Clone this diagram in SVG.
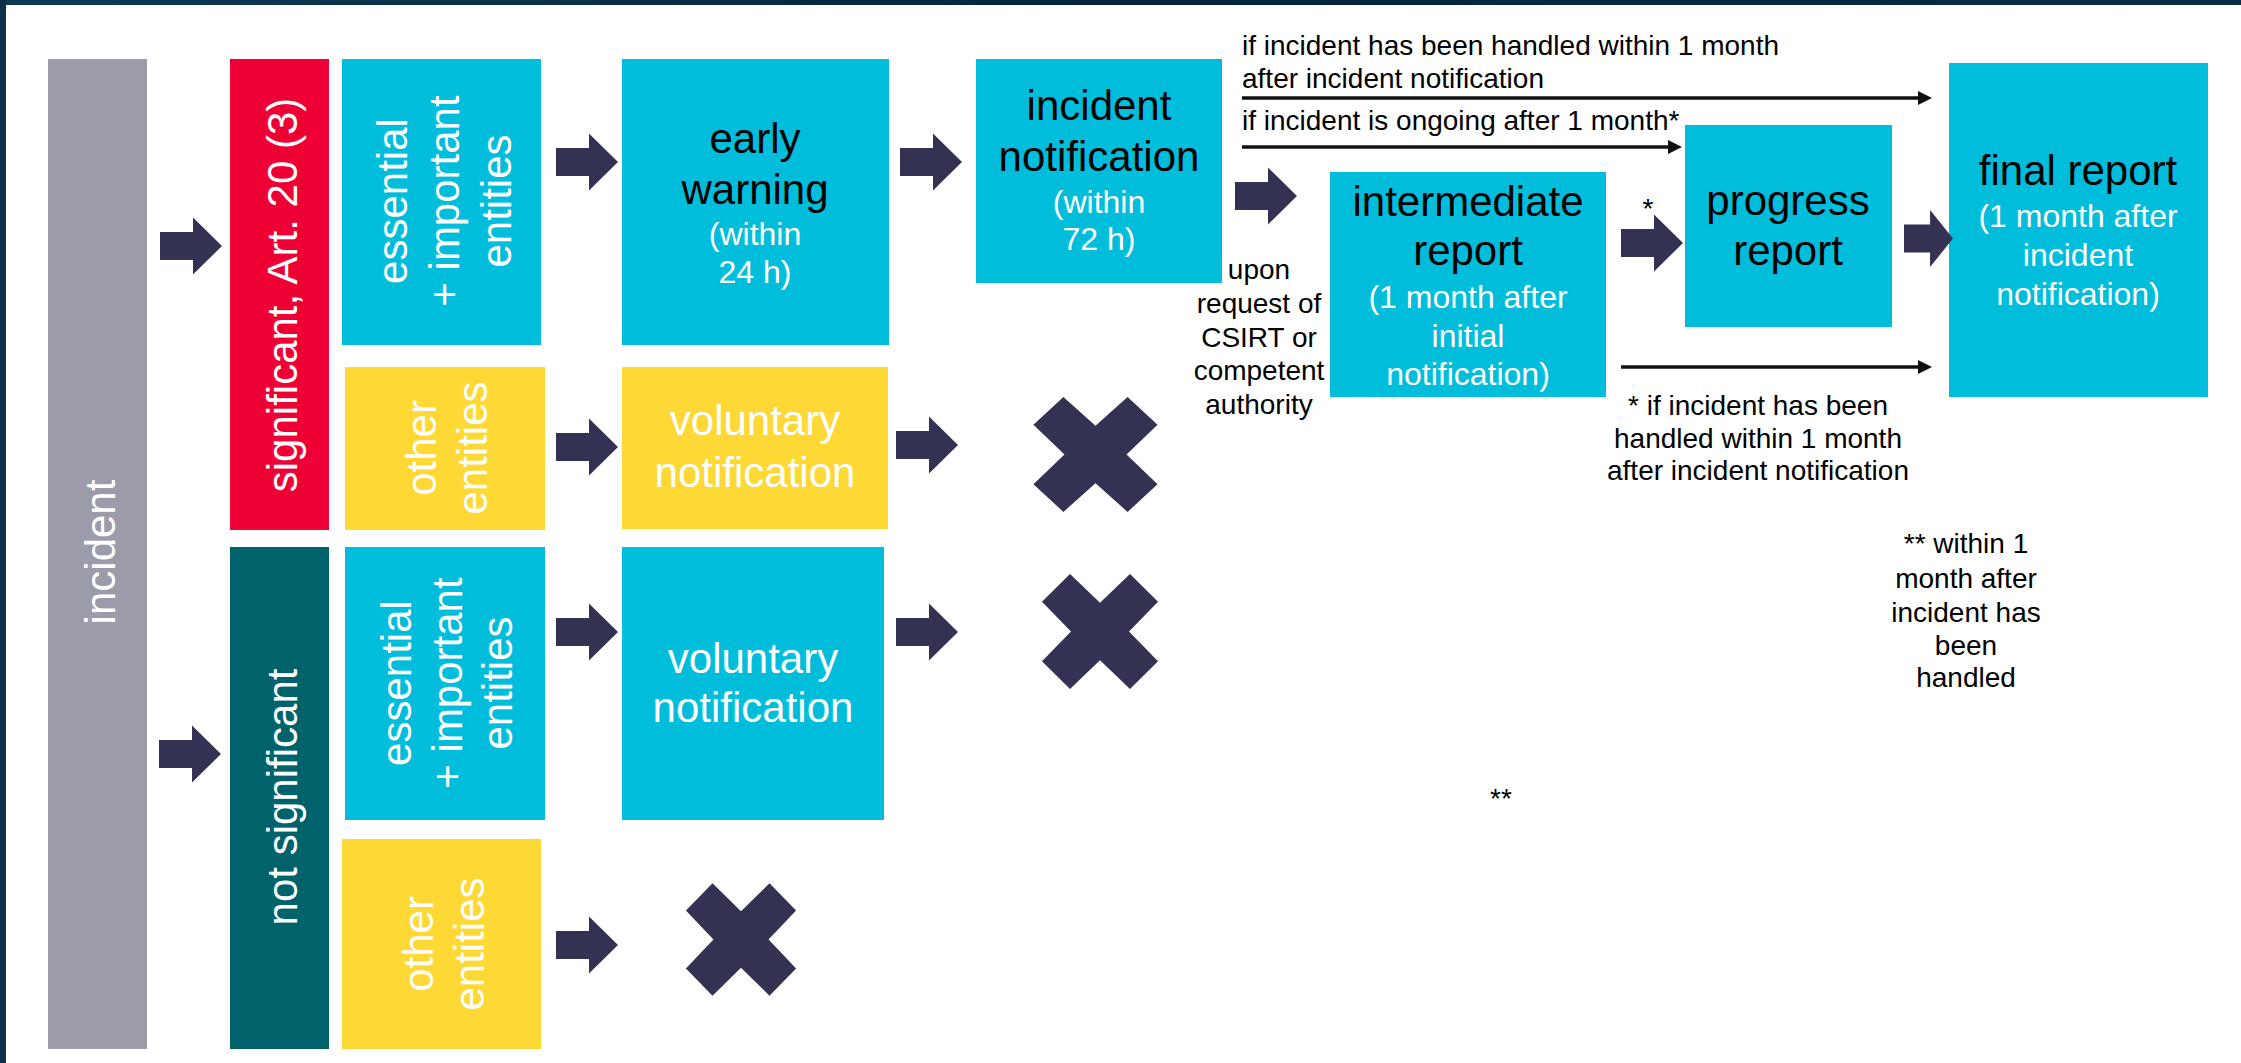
<svg xmlns="http://www.w3.org/2000/svg" xmlns:xlink="http://www.w3.org/1999/xlink" width="2241" height="1063" viewBox="0 0 2241 1063">
  <defs>
    <style>
      .lbl { font-family: "Liberation Sans", Arial, sans-serif; }
      .big { font-size: 42px; }
      .sub { font-size: 32px; }
      .note { font-size: 28px; fill: #000; }
      .w { fill: #ffffff; }
      .k { fill: #000000; }
      .mid { text-anchor: middle; }
      .cyan { fill: #00bedb; }
      .yellow { fill: #fed834; }
      .red { fill: #ee0035; }
      .teal { fill: #00636c; }
      .grey { fill: #9c9baa; }
      .blk { fill: #343252; }
      .thin { stroke: #111111; stroke-width: 3.5; fill: none; marker-end: url(#head); }
    </style>
    <linearGradient id="frame" x1="0" y1="0" x2="1" y2="0">
      <stop offset="0" stop-color="#0f3a55"/>
      <stop offset="0.5" stop-color="#05243a"/>
      <stop offset="1" stop-color="#0a2d45"/>
    </linearGradient>
    <!-- block arrow, origin at left-middle -->
    <path id="arrow" d="M0,-14 H33 V-28.5 L62,0 L33,28.5 V14 H0 Z"/>
    <!-- cross mark, centred on origin -->
    <path id="cross" d="M-30,-58 L0,-29 L30,-58 L58,-30 L29,0 L58,30 L30,58 L0,29 L-30,58 L-58,30 L-29,0 L-58,-30 Z"/>
    <marker id="head" markerUnits="userSpaceOnUse" markerWidth="14" markerHeight="14" refX="7" refY="7" orient="auto">
      <path d="M0,0 L14,7 L0,14 Z" fill="#111111"/>
    </marker>
  </defs>

  <!-- page -->
  <rect x="0" y="0" width="2241" height="1063" fill="#ffffff"/>
  <rect x="0" y="0" width="2241" height="5" fill="url(#frame)"/>
  <rect x="0" y="0" width="6" height="1063" fill="#0c3048"/>

  <!-- first column -->
  <g id="n-incident">
    <rect class="grey" x="48" y="59" width="99" height="990"/>
    <text class="lbl big w mid" transform="translate(115,552) rotate(-90)">incident</text>
  </g>

  <!-- severity -->
  <g id="n-significant">
    <rect class="red" x="230" y="59" width="99" height="471"/>
    <text class="lbl big w mid" transform="translate(297,295) rotate(-90)">significant, Art. 20 (3)</text>
  </g>
  <g id="n-not-significant">
    <rect class="teal" x="230" y="547" width="99" height="502"/>
    <text class="lbl big w mid" transform="translate(297,797) rotate(-90)">not significant</text>
  </g>

  <!-- entity types -->
  <g id="n-entities-significant">
    <rect class="cyan" x="342" y="59" width="199" height="286"/>
    <text class="lbl big w mid" transform="translate(407,201) rotate(-90)">essential</text>
    <text class="lbl big w mid" transform="translate(459,201) rotate(-90)">+ important</text>
    <text class="lbl big w mid" transform="translate(511,201) rotate(-90)">entities</text>
  </g>
  <g id="n-other-significant">
    <rect class="yellow" x="345" y="367" width="200" height="163"/>
    <text class="lbl big w mid" transform="translate(436,448) rotate(-90)">other</text>
    <text class="lbl big w mid" transform="translate(487,448) rotate(-90)">entities</text>
  </g>
  <g id="n-entities-not-significant">
    <rect class="cyan" x="345" y="547" width="200" height="273"/>
    <text class="lbl big w mid" transform="translate(411,683) rotate(-90)">essential</text>
    <text class="lbl big w mid" transform="translate(462,683) rotate(-90)">+ important</text>
    <text class="lbl big w mid" transform="translate(512,683) rotate(-90)">entities</text>
  </g>
  <g id="n-other-not-significant">
    <rect class="yellow" x="342" y="839" width="199" height="210"/>
    <text class="lbl big w mid" transform="translate(433,944) rotate(-90)">other</text>
    <text class="lbl big w mid" transform="translate(484,944) rotate(-90)">entities</text>
  </g>

  <!-- reports -->
  <g id="n-early-warning">
    <rect class="cyan" x="622" y="59" width="267" height="286"/>
    <text class="lbl big k mid" x="755" y="153">early</text>
    <text class="lbl big k mid" x="755" y="204">warning</text>
    <text class="lbl sub w mid" x="755" y="245">(within</text>
    <text class="lbl sub w mid" x="755" y="283">24 h)</text>
  </g>
  <g id="n-voluntary-significant">
    <rect class="yellow" x="622" y="367" width="266" height="162"/>
    <text class="lbl big w mid" x="755" y="435">voluntary</text>
    <text class="lbl big w mid" x="755" y="487">notification</text>
  </g>
  <g id="n-voluntary-not-significant">
    <rect class="cyan" x="622" y="547" width="262" height="273"/>
    <text class="lbl big w mid" x="753" y="673">voluntary</text>
    <text class="lbl big w mid" x="753" y="722">notification</text>
  </g>
  <g id="n-incident-notification">
    <rect class="cyan" x="976" y="59" width="246" height="224"/>
    <text class="lbl big k mid" x="1099" y="120">incident</text>
    <text class="lbl big k mid" x="1099" y="171">notification</text>
    <text class="lbl sub w mid" x="1099" y="213">(within</text>
    <text class="lbl sub w mid" x="1099" y="250">72 h)</text>
  </g>
  <g id="n-intermediate-report">
    <rect class="cyan" x="1330" y="172" width="276" height="225"/>
    <text class="lbl big k mid" x="1468" y="216">intermediate</text>
    <text class="lbl big k mid" x="1468" y="265">report</text>
    <text class="lbl sub w mid" x="1468" y="308">(1 month after</text>
    <text class="lbl sub w mid" x="1468" y="347">initial</text>
    <text class="lbl sub w mid" x="1468" y="385">notification)</text>
  </g>
  <g id="n-progress-report">
    <rect class="cyan" x="1685" y="125" width="207" height="202"/>
    <text class="lbl big k mid" x="1788" y="215">progress</text>
    <text class="lbl big k mid" x="1788" y="265">report</text>
  </g>
  <g id="n-final-report">
    <rect class="cyan" x="1949" y="63" width="259" height="334"/>
    <text class="lbl big k mid" x="2078" y="185">final report</text>
    <text class="lbl sub w mid" x="2078" y="227">(1 month after</text>
    <text class="lbl sub w mid" x="2078" y="266">incident</text>
    <text class="lbl sub w mid" x="2078" y="305">notification)</text>
  </g>

  <!-- no obligation -->
  <g id="n-none-1" class="blk"><use xlink:href="#cross" transform="translate(1095.5,454.5) scale(1.07,0.99)"/></g>
  <g id="n-none-2" class="blk"><use xlink:href="#cross" transform="translate(1100,631.5) scale(1,0.99)"/></g>
  <g id="n-none-3" class="blk"><use xlink:href="#cross" transform="translate(741,939.5) scale(0.95,0.97)"/></g>

  <!-- connectors -->
  <g id="connectors">
    <g class="blk">
      <use xlink:href="#arrow" x="160" y="246"/>
      <use xlink:href="#arrow" x="159" y="754"/>
      <use xlink:href="#arrow" x="556" y="162"/>
      <use xlink:href="#arrow" x="556" y="447"/>
      <use xlink:href="#arrow" x="556" y="632"/>
      <use xlink:href="#arrow" x="556" y="945"/>
      <use xlink:href="#arrow" x="900" y="162"/>
      <use xlink:href="#arrow" x="896" y="445"/>
      <use xlink:href="#arrow" x="896" y="632"/>
      <use xlink:href="#arrow" x="1235" y="196"/>
      <use xlink:href="#arrow" x="1621" y="243"/>
      <use xlink:href="#arrow" transform="translate(1904,238.5) scale(0.79,1)"/>
    </g>
    <line class="thin" x1="1242" y1="98" x2="1925" y2="98"/>
    <line class="thin" x1="1242" y1="147" x2="1675" y2="147"/>
    <line class="thin" x1="1621" y1="367" x2="1925" y2="367"/>
    <g class="lbl note">
      <text x="1242" y="55">if incident has been handled within 1 month</text>
      <text x="1242" y="88">after incident notification</text>
      <text x="1242" y="130">if incident is ongoing after 1 month*</text>
      <text class="mid" x="1648" y="218">*</text>
      <text class="mid" x="1259" y="279">upon</text>
      <text class="mid" x="1259" y="313">request of</text>
      <text class="mid" x="1259" y="347">CSIRT or</text>
      <text class="mid" x="1259" y="380">competent</text>
      <text class="mid" x="1259" y="414">authority</text>
    </g>
  </g>

  <!-- footnotes -->
  <g id="notes" class="lbl note">
    <text class="mid" x="1758" y="415">* if incident has been</text>
    <text class="mid" x="1758" y="448">handled within 1 month</text>
    <text class="mid" x="1758" y="480">after incident notification</text>
    <text class="mid" x="1966" y="553">** within 1</text>
    <text class="mid" x="1966" y="588">month after</text>
    <text class="mid" x="1966" y="622">incident has</text>
    <text class="mid" x="1966" y="655">been</text>
    <text class="mid" x="1966" y="687">handled</text>
    <text class="mid" x="1501" y="808">**</text>
  </g>
</svg>
